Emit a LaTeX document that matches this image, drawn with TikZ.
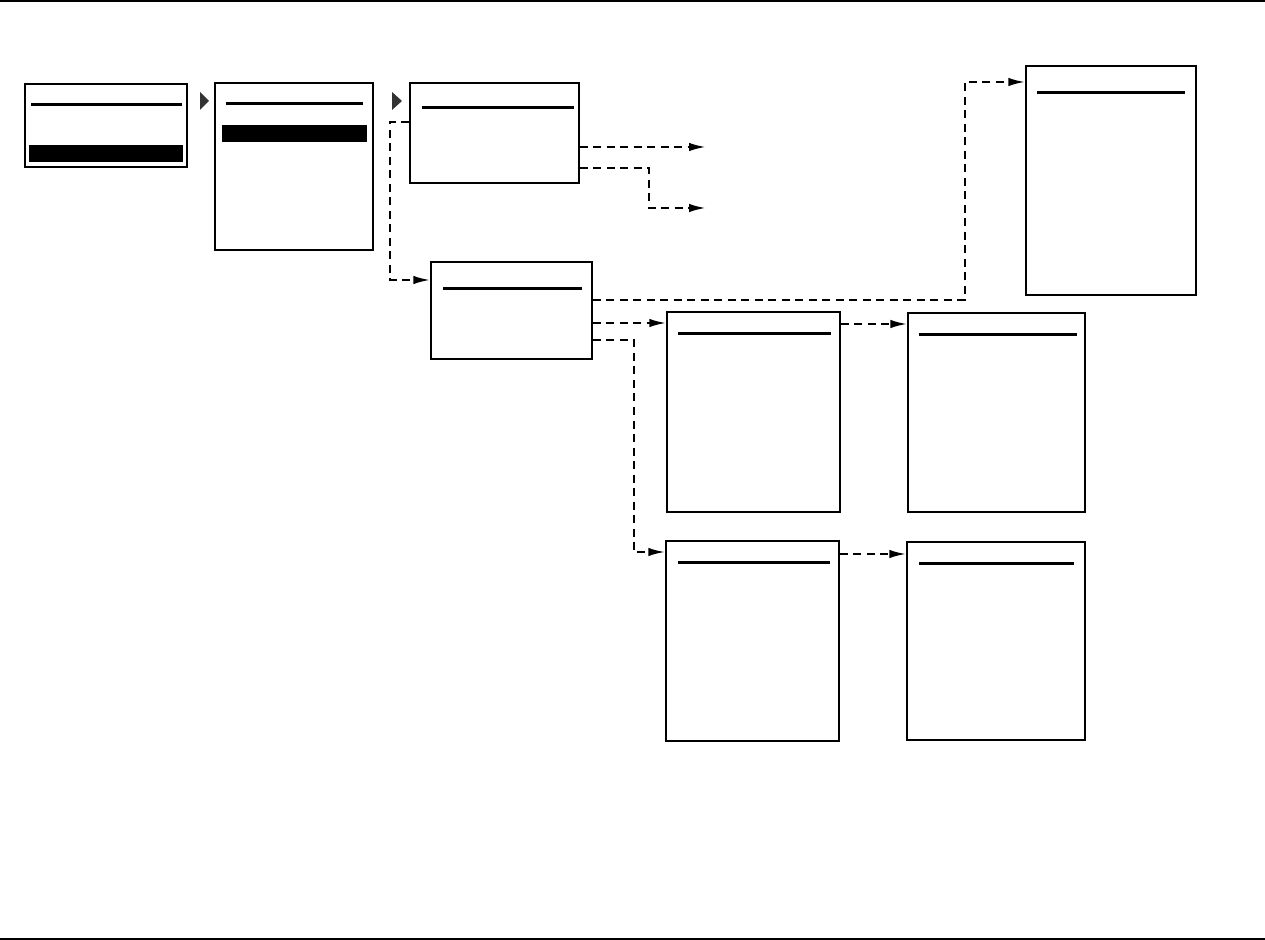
\documentclass[tikz,border=0pt]{standalone}
\usepackage{tikz}
\usetikzlibrary{arrows.meta, positioning, calc}
\tikzset{
    screen/.style={rectangle, draw, line width=0.8pt, inner sep=0pt},
    headline/.style={line width=1.8pt},
    selbar/.style={fill=black},
    marker/.style={fill=black!80},
    flow/.style={-{Latex[length=3.4mm, width=1.7mm]}, line width=1.3pt,
                 dash pattern=on 1.6mm off 1.1mm},
    rule/.style={line width=0.35mm},
}

\begin{document}
\begin{tikzpicture}[x=0.2mm, y=-0.2mm]

    \useasboundingbox (0,0) rectangle (1265,940);

    % ── Page rules ─────────────────────────────────────────────────
    \coordinate (topL) at (0, 0.8);
    \coordinate (topR) at (1265, 0.8);
    \coordinate (botL) at (0, 939);
    \coordinate (botR) at (1265, 939);
    \draw[rule] (topL) -- (topR);
    \draw[rule] (botL) -- (botR);

    % ── Screens ────────────────────────────────────────────────────
    \node[screen, minimum width=32.4mm, minimum height=16.6mm] (s1) at (106, 125.5) {};
    \node[screen, minimum width=31.6mm, minimum height=33.4mm] (s2) at (294, 166.5) {};
    \node[screen, minimum width=33.8mm, minimum height=20mm]   (s3) at (494.5, 133) {};
    \node[screen, minimum width=32.2mm, minimum height=19.4mm] (s4) at (511.5, 310.5) {};
    \node[screen, minimum width=34mm,   minimum height=45.8mm] (s5) at (1111, 180.5) {};
    \node[screen, minimum width=34.6mm, minimum height=40mm]   (s6) at (753.5, 412) {};
    \node[screen, minimum width=35.4mm, minimum height=39.8mm] (s7) at (996.5, 412.5) {};
    \node[screen, minimum width=34.6mm, minimum height=40mm]   (s8) at (752.5, 641) {};
    \node[screen, minimum width=35.6mm, minimum height=39.6mm] (s9) at (996, 641) {};

    % ── Title lines ────────────────────────────────────────────────
    \draw[headline] ([xshift=1.4mm, yshift=-4.2mm]s1.north west) -- ([xshift=-1.2mm, yshift=-4.2mm]s1.north east);
    \draw[headline] ([xshift=2.4mm, yshift=-4.2mm]s2.north west) -- ([xshift=-2.2mm, yshift=-4.2mm]s2.north east);
    \draw[headline] ([xshift=2.6mm, yshift=-5mm]s3.north west) -- ([xshift=-1.2mm, yshift=-5mm]s3.north east);
    \draw[headline] ([xshift=2.6mm, yshift=-5.4mm]s4.north west) -- ([xshift=-2.2mm, yshift=-5.4mm]s4.north east);
    \draw[headline] ([xshift=2.4mm, yshift=-5.4mm]s5.north west) -- ([xshift=-2.4mm, yshift=-5.4mm]s5.north east);
    \draw[headline] ([xshift=2.4mm, yshift=-4.4mm]s6.north west) -- ([xshift=-2mm, yshift=-4.4mm]s6.north east);
    \draw[headline] ([xshift=2.4mm, yshift=-4.4mm]s7.north west) -- ([xshift=-1.8mm, yshift=-4.4mm]s7.north east);
    \draw[headline] ([xshift=2.6mm, yshift=-4.4mm]s8.north west) -- ([xshift=-2mm, yshift=-4.4mm]s8.north east);
    \draw[headline] ([xshift=2.6mm, yshift=-4.4mm]s9.north west) -- ([xshift=-2.4mm, yshift=-4.4mm]s9.north east);

    % ── Selection bars ─────────────────────────────────────────────
    \fill[selbar] ([xshift=1mm, yshift=1.2mm]s1.south west) rectangle ([xshift=-1mm, yshift=4.6mm]s1.south east);
    \fill[selbar] ([xshift=1.6mm, yshift=-8.6mm]s2.north west) rectangle ([xshift=-1.4mm, yshift=-12mm]s2.north east);

    % ── Step markers ───────────────────────────────────────────────
    \fill[marker] (200, 92) -- (200, 110) -- (209, 101) -- cycle;
    \fill[marker] (392, 92) -- (392, 110) -- (402, 101) -- cycle;

    % ── Loose ends ─────────────────────────────────────────────────
    \coordinate (out1) at (706, 147);
    \coordinate (out2) at (706, 208);

    % ── Flows ──────────────────────────────────────────────────────
    \draw[flow] ([yshift=2.2mm]s3.west) -- ++(-3.8mm, 0) |- ([yshift=6.1mm]s4.west);
    \draw[flow] (s3.east |- out1) -- (out1);
    \draw[flow] ([yshift=-7mm]s3.east) -- ++(13.8mm, 0) |- (out2);

    \draw[flow] ([yshift=2.1mm]s4.east) -- ++(74.4mm, 0) |- ([yshift=19.7mm]s5.west);
    \draw[flow] ([yshift=-2.5mm]s4.east) -- ([yshift=-2.5mm]s4.east -| s6.west);
    \draw[flow] ([yshift=-5.9mm]s4.east) -- ++(8.2mm, 0) |- ([yshift=17.8mm]s8.west);

    \draw[flow] ([yshift=17.6mm]s6.east) -- ([yshift=17.6mm]s6.east -| s7.west);
    \draw[flow] ([yshift=17.4mm]s8.east) -- ([yshift=17.4mm]s8.east -| s9.west);

\end{tikzpicture}
\end{document}
